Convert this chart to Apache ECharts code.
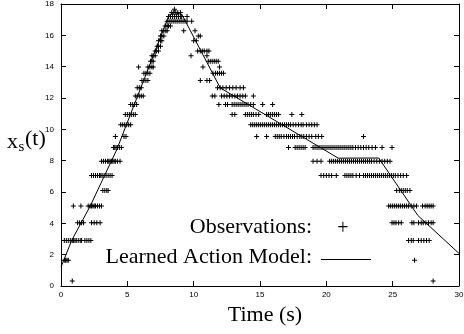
<!DOCTYPE html>
<html><head><meta charset="utf-8">
<script src="https://cdn.jsdelivr.net/npm/echarts@6.0.0/dist/echarts.min.js"></script>
<style>html,body{margin:0;padding:0;background:#fff}#c{width:464px;height:334px}</style>
</head><body><div id="c"></div>
<script>
// ---- data ----
const xRange = [0, 30];
const yRange = [0, 18];
const xStep = 5;
const yStep = 2;

// observation rows: quantised levels and the times at which they were observed
const obsLevels = [0.32, 1.65, 2.9, 4.03, 5.1, 6.1, 7.06, 7.97, 8.84, 9.55, 10.3, 10.94, 11.58, 12.12, 12.66, 13.12, 13.58, 13.98, 14.35, 14.7, 15.0, 15.3, 15.65, 15.95, 16.3, 16.6, 16.9, 17.2, 17.45, 17.67];
const obsTimes = [
  [0.85, 28.05],
  [0.25, 0.35, 0.45, 0.55, 26.65],
  [0.25, 0.4, 0.55, 0.7, 0.85, 0.95, 1.05, 1.15, 1.3, 1.45, 1.55, 1.8, 1.95, 2.1, 2.25, 26.2, 26.4, 26.55, 26.95, 27.15, 27.35, 27.55, 27.75],
  [1.25, 1.4, 1.55, 1.7, 2.3, 2.5, 2.7, 2.95, 24.95, 25.1, 25.25, 25.45, 25.65, 26.45, 26.6, 26.95, 27.15, 27.3, 27.5, 27.7, 27.9, 28.05],
  [0.93, 1.5, 2.05, 2.2, 2.3, 2.4, 2.5, 2.6, 2.75, 2.9, 3.05, 24.7, 24.85, 25.0, 25.15, 25.3, 25.45, 25.6, 25.75, 25.9, 26.05, 26.2, 26.4, 26.6, 26.8, 27.25, 27.45, 27.6, 27.75, 27.9, 28.05],
  [3.15, 3.3, 3.45, 3.55, 25.3, 25.5, 25.65, 25.8, 25.95, 26.1, 26.3],
  [2.3, 2.45, 2.6, 2.75, 2.9, 3.0, 3.1, 3.25, 3.4, 3.55, 3.7, 3.85, 19.6, 19.8, 20.0, 20.2, 20.4, 20.75, 21.4, 21.55, 21.7, 21.85, 22.0, 22.25, 22.5, 22.8, 22.95, 23.1, 23.25, 23.4, 23.55, 23.7, 23.85, 24.0, 24.15, 24.3, 24.45, 24.6, 24.75, 24.9, 25.05, 25.2, 25.4, 25.6, 25.8, 26.05],
  [3.05, 3.2, 3.35, 3.5, 3.6, 3.7, 3.8, 3.9, 4.0, 4.1, 4.25, 4.45, 19.0, 19.3, 19.6, 20.25, 20.4, 20.55, 20.7, 20.85, 21.0, 21.15, 21.3, 21.45, 21.6, 21.75, 21.9, 22.05, 22.2, 22.35, 22.5, 22.65, 22.8, 22.95, 23.1, 23.25, 23.4, 23.6, 23.8, 24.0, 24.2, 24.4, 24.6, 24.8],
  [3.95, 4.05, 4.15, 4.25, 4.4, 4.55, 17.15, 17.65, 17.8, 17.95, 18.1, 18.25, 18.4, 19.0, 19.15, 19.3, 19.45, 19.6, 19.75, 19.9, 20.05, 20.2, 20.35, 20.5, 20.65, 20.8, 20.95, 21.1, 21.25, 21.4, 21.55, 21.7, 21.85, 22.0, 22.2, 22.4, 22.6, 22.8, 23.0, 23.2, 23.45, 23.7, 24.2, 24.95],
  [4.1, 4.75, 4.9, 14.75, 15.5, 16.15, 16.3, 16.45, 16.6, 16.8, 17.0, 17.15, 17.3, 17.45, 17.6, 17.8, 18.0, 18.15, 18.3, 18.5, 18.7, 18.9, 19.2, 19.4, 19.65, 22.8],
  [4.5, 4.65, 4.8, 4.95, 5.1, 5.25, 14.3, 14.45, 14.6, 14.75, 14.9, 15.05, 15.2, 15.35, 15.5, 15.65, 15.8, 15.95, 16.1, 16.25, 16.4, 16.55, 16.7, 16.85, 17.0, 17.15, 17.3, 17.5, 17.7, 17.9, 18.1, 18.25, 18.5, 18.7, 18.9, 19.1, 19.3],
  [4.85, 5.0, 5.15, 5.3, 5.45, 5.6, 12.9, 13.1, 13.9, 14.05, 14.2, 14.35, 14.5, 14.7, 14.9, 15.5, 15.65, 15.8, 15.95, 16.1, 16.25, 16.4, 17.4, 18.15],
  [5.25, 5.4, 5.55, 5.7, 11.9, 12.4, 12.55, 12.9, 13.05, 13.2, 13.35, 13.5, 13.65, 13.8, 13.95, 14.1, 14.3, 14.5, 15.2, 15.95],
  [5.6, 5.75, 5.9, 6.05, 6.2, 11.4, 11.6, 12.1, 12.3, 12.5, 12.7, 12.9, 13.1, 13.3, 13.5, 13.7, 13.9, 14.5],
  [5.75, 5.9, 6.05, 11.8, 12.0, 12.2, 12.45, 12.7, 12.95, 13.2, 13.5, 13.75],
  [6.1, 6.25, 6.4, 6.55, 10.5, 11.0, 11.2],
  [6.25, 6.4, 6.55, 6.7, 11.45, 11.65, 11.8, 11.95, 12.1, 12.25],
  [5.85, 6.55, 6.7, 6.85, 6.95, 10.7, 11.95],
  [6.75, 6.85, 6.95, 11.1, 11.25, 11.4, 11.55, 11.7, 11.85],
  [6.85, 6.95, 7.1, 9.8, 11.0],
  [7.1, 7.2, 7.35, 10.3, 10.5, 10.65, 10.8, 11.0, 11.15],
  [7.25, 7.35, 7.5],
  [7.35, 7.5, 7.6, 10.0, 10.2],
  [7.5, 7.6, 7.75, 10.35, 10.5],
  [7.6, 7.75, 7.9, 8.0, 9.25, 10.1],
  [7.85, 8.0, 8.1, 8.25],
  [8.0, 8.15, 8.3, 8.45, 8.6, 8.75, 8.9, 9.05, 9.2, 9.35, 9.5, 9.85],
  [8.1, 8.25, 8.4, 8.55, 8.7, 8.85, 9.0, 9.1, 9.5],
  [8.35, 8.5, 8.65, 8.8, 9.0],
  [8.55]
];

// learned action model (piecewise linear)
const modelTimes  = [0, 0.8, 2.2, 4.2, 8.15, 8.5, 9.1, 12.0, 20.9, 23.95, 26.9, 30];
const modelValues = [1.2, 2.9, 5.1, 8.7, 17.3, 17.45, 17.35, 12.65, 8.16, 8.17, 4.5, 2.08];

const titleX = 'Time (s)';
const legendObs = 'Observations:';
const legendModel = 'Learned Action Model:';

// ---- build ----
const obsData = [];
obsLevels.forEach((lv, i) => obsTimes[i].forEach(t => obsData.push([t, lv])));
const modelData = modelTimes.map((t, i) => [t, modelValues[i]]);

const serif = "'Liberation Serif', 'Times New Roman', serif";
const sans = "'Liberation Sans', Arial, sans-serif";
const plus = 'path://M4,0H6V4H10V6H6V10H4V6H0V4H4Z';

function axisCommon(extra) {
  return Object.assign({
    type: 'value',
    axisLine: { show: true, onZero: false, lineStyle: { color: '#000', width: 1 } },
    axisTick: { show: true, inside: true, length: 5, lineStyle: { color: '#000', width: 1 } },
    splitLine: { show: false },
    minorTick: { show: false }
  }, extra);
}

const chart = echarts.init(document.getElementById('c'), null, { renderer: 'canvas' });
chart.setOption({
  animation: false,
  backgroundColor: '#fff',
  grid: { left: 61, right: 5, top: 4, bottom: 48, containLabel: false, outerBoundsMode: 'none' },
  xAxis: [
    axisCommon({ min: xRange[0], max: xRange[1], interval: xStep, position: 'bottom',
      axisLabel: { show: true, fontSize: 8, color: '#000', fontFamily: sans, margin: 5, showMaxLabel: true } }),
    axisCommon({ min: xRange[0], max: xRange[1], interval: xStep, position: 'top',
      axisLabel: { show: false } })
  ],
  yAxis: [
    axisCommon({ min: yRange[0], max: yRange[1], interval: yStep, position: 'left',
      axisLabel: { show: true, fontSize: 8, color: '#000', fontFamily: sans, margin: 7 } }),
    axisCommon({ min: yRange[0], max: yRange[1], interval: yStep, position: 'right',
      axisLabel: { show: false } })
  ],
  series: [
    {
      name: 'Observations', type: 'scatter', xAxisIndex: 0, yAxisIndex: 0,
      data: obsData, symbol: plus, symbolSize: 5,
      itemStyle: { color: '#000', opacity: 1 }, silent: true
    },
    {
      name: 'Learned Action Model', type: 'line', xAxisIndex: 0, yAxisIndex: 0,
      data: modelData, showSymbol: false, symbol: 'none',
      lineStyle: { color: '#000', width: 1 }, silent: true, z: 3
    }
  ],
  graphic: [
    { type: 'text', left: 7, top: 131, style: { text: 'x', font: '22px ' + serif, fill: '#000' } },
    { type: 'text', left: 18.5, top: 140, style: { text: 's', font: '15px ' + serif, fill: '#000' } },
    { type: 'text', left: 25, top: 128, style: { text: '(t)', font: '22px ' + serif, fill: '#000' } },
    { type: 'text', x: 265, y: 315, style: { text: titleX, font: '22px ' + serif, fill: '#000', align: 'center', verticalAlign: 'middle' } },
    { type: 'text', x: 312, y: 227, style: { text: legendObs, font: '22px ' + serif, fill: '#000', align: 'right', verticalAlign: 'middle' } },
    { type: 'text', x: 343, y: 229, style: { text: '+', font: '20px ' + serif, fill: '#000', align: 'center', verticalAlign: 'middle' } },
    { type: 'text', x: 312, y: 257, style: { text: legendModel, font: '22px ' + serif, fill: '#000', align: 'right', verticalAlign: 'middle' } },
    { type: 'line', shape: { x1: 321, y1: 259.5, x2: 371, y2: 259.5 }, style: { stroke: '#000', lineWidth: 1 } }
  ]
});
</script>
</body></html>
